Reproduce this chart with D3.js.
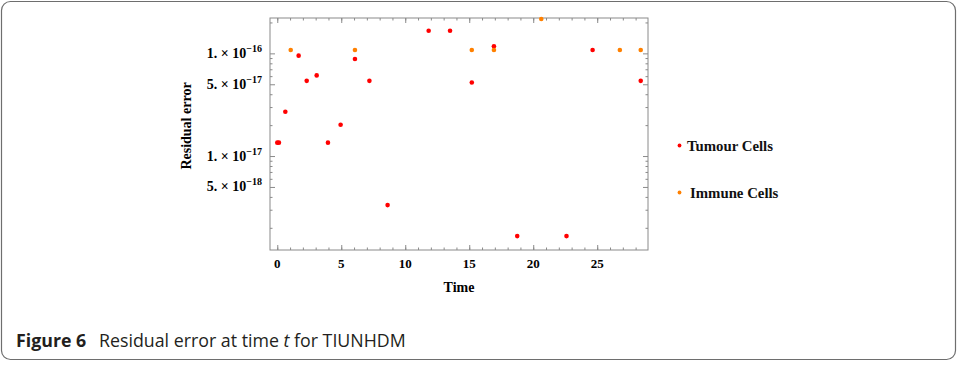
<!DOCTYPE html>
<html><head><meta charset="utf-8">
<script src="https://cdn.jsdelivr.net/npm/d3@7"></script>
<style>body{margin:0;background:#fff} svg{display:block}</style>
</head><body><svg id="c" width="958" height="373"></svg>
<script>
// ---- data ----
const tumourTime = [0, 0.13, 0.63, 1.67, 2.3, 3.08, 3.96, 4.95, 6.07, 7.2, 8.62, 11.83, 13.5, 15.2, 16.93, 18.75, 22.6, 24.64, 28.4];
const tumourError = [1.35e-17, 1.35e-17, 2.7e-17, 9.5e-17, 5.4e-17, 6.1e-17, 1.35e-17, 2.02e-17, 8.8e-17, 5.4e-17, 3.33e-18, 1.66e-16, 1.66e-16, 5.2e-17, 1.17e-16, 1.66e-18, 1.66e-18, 1.08e-16, 5.4e-17];
const immuneTime = [1.05, 6.07, 15.2, 16.93, 20.63, 26.77, 28.4];
const immuneError = [1.08e-16, 1.08e-16, 1.08e-16, 1.08e-16, 2.16e-16, 1.08e-16, 1.08e-16];
const xTickValues = [0, 5, 10, 15, 20, 25];
const xTickLabels = ["0", "5", "10", "15", "20", "25"];
const xMinorTicks = d3.range(0, 29, 1);
const yTickValues = [1e-16, 5e-17, 1e-17, 5e-18];
const yTickMantissa = ["1.", "5.", "1.", "5."];
const yTickExponent = ["\u221216", "\u221217", "\u221217", "\u221218"];
const yMinorTicks = [2e-16, 9e-17, 8e-17, 7e-17, 6e-17, 4e-17, 3e-17, 2e-17, 9e-18, 8e-18, 7e-18, 6e-18, 4e-18, 3e-18, 2e-18];
const seriesNames = ["Tumour Cells", "Immune Cells"];
const seriesColors = ["#ff0000", "#ff8000"];

// ---- layout ----
const W = 958, H = 373;
const L = 270, R = 648, T = 18, B = 250;
const svg = d3.select("#c");
const serif = "'Liberation Serif','Times New Roman',serif";

svg.append("rect").attr("x", 1.5).attr("y", 1.5).attr("width", 954).attr("height", 358)
  .attr("rx", 9).attr("fill", "none").attr("stroke", "#6e6e6e").attr("stroke-width", 1.2);

const x = d3.scaleLinear().domain([-0.568, 28.968]).range([L, R]);
const y = d3.scaleLog().domain([1.216e-18, 2.21e-16]).range([B, T]);

const axisColor = "#8a8a8a";
function styleAxis(g) {
  g.select(".domain").remove();
  g.selectAll("line").attr("stroke", axisColor);
  g.selectAll("text").remove();
}
// minor ticks
svg.append("g").attr("transform", `translate(0,${B})`)
  .call(d3.axisBottom(x).tickValues(xMinorTicks).tickSize(-2.5).tickSizeOuter(0)).call(styleAxis);
svg.append("g").attr("transform", `translate(0,${T})`)
  .call(d3.axisTop(x).tickValues(xMinorTicks).tickSize(-2.5).tickSizeOuter(0)).call(styleAxis);
svg.append("g").attr("transform", `translate(${L},0)`)
  .call(d3.axisLeft(y).tickValues(yMinorTicks).tickSize(-2.5).tickSizeOuter(0)).call(styleAxis);
svg.append("g").attr("transform", `translate(${R},0)`)
  .call(d3.axisRight(y).tickValues(yMinorTicks).tickSize(-2.5).tickSizeOuter(0)).call(styleAxis);
// major ticks
svg.append("g").attr("transform", `translate(0,${B})`)
  .call(d3.axisBottom(x).tickValues(xTickValues).tickSize(-5).tickSizeOuter(0)).call(styleAxis);
svg.append("g").attr("transform", `translate(0,${T})`)
  .call(d3.axisTop(x).tickValues(xTickValues).tickSize(-5).tickSizeOuter(0)).call(styleAxis);
svg.append("g").attr("transform", `translate(${L},0)`)
  .call(d3.axisLeft(y).tickValues(yTickValues).tickSize(-5).tickSizeOuter(0)).call(styleAxis);
svg.append("g").attr("transform", `translate(${R},0)`)
  .call(d3.axisRight(y).tickValues(yTickValues).tickSize(-5).tickSizeOuter(0)).call(styleAxis);

svg.append("rect").attr("x", L).attr("y", T).attr("width", R - L).attr("height", B - T)
  .attr("fill", "none").attr("stroke", axisColor).attr("stroke-width", 1);

// x labels
svg.append("g").selectAll("text").data(xTickValues).join("text")
  .attr("x", d => x(d)).attr("y", 267.5).attr("text-anchor", "middle")
  .attr("font-family", serif).attr("font-weight", "bold").attr("font-size", 13)
  .text((d, i) => xTickLabels[i]);
// y labels
const yl = svg.append("g").selectAll("text").data(yTickValues).join("text")
  .attr("x", 262).attr("y", d => y(d) + 4.5).attr("text-anchor", "end")
  .attr("font-family", serif).attr("font-weight", "bold").attr("font-size", 14);
yl.append("tspan").text((d, i) => yTickMantissa[i] + " \u00d7 10");
yl.append("tspan").attr("dy", -6).attr("font-size", 10).text((d, i) => yTickExponent[i]);

// axis titles
svg.append("text").attr("x", (L + R) / 2).attr("y", 292).attr("text-anchor", "middle")
  .attr("font-family", serif).attr("font-weight", "bold").attr("font-size", 14).text("Time");
svg.append("text").attr("transform", "translate(191,126) rotate(-90)").attr("text-anchor", "middle")
  .attr("font-family", serif).attr("font-weight", "bold").attr("font-size", 14).text("Residual error");

// points
const tumour = tumourTime.map((t, i) => ({t, e: tumourError[i]}));
const immune = immuneTime.map((t, i) => ({t, e: immuneError[i]}));
svg.append("g").selectAll("circle").data(tumour).join("circle")
  .attr("cx", d => x(d.t)).attr("cy", d => y(d.e)).attr("r", 2.3).attr("fill", seriesColors[0]);
svg.append("g").selectAll("circle").data(immune).join("circle")
  .attr("cx", d => x(d.t)).attr("cy", d => y(d.e)).attr("r", 2.3).attr("fill", seriesColors[1]);

// legend
const legY = [145.5, 192.5], legTextX = [687, 690];
seriesNames.forEach((n, i) => {
  svg.append("circle").attr("cx", 679.5).attr("cy", legY[i]).attr("r", 1.9).attr("fill", seriesColors[i]);
  svg.append("text").attr("x", legTextX[i]).attr("y", legY[i] + 5).attr("font-family", serif)
    .attr("font-weight", "bold").attr("font-size", 14.8).attr("fill", "#111").text(n);
});

// caption
const cap = svg.append("text").attr("y", 347).attr("font-family", "'Open Sans', sans-serif").attr("font-size", 17.8).attr("fill", "#231f20");
cap.append("tspan").attr("x", 16).attr("font-weight", "bold").text("Figure 6");
cap.append("tspan").attr("x", 99).text("Residual error at time ");
cap.append("tspan").attr("font-style", "italic").text("t");
cap.append("tspan").text(" for TIUNHDM");
</script></body></html>
